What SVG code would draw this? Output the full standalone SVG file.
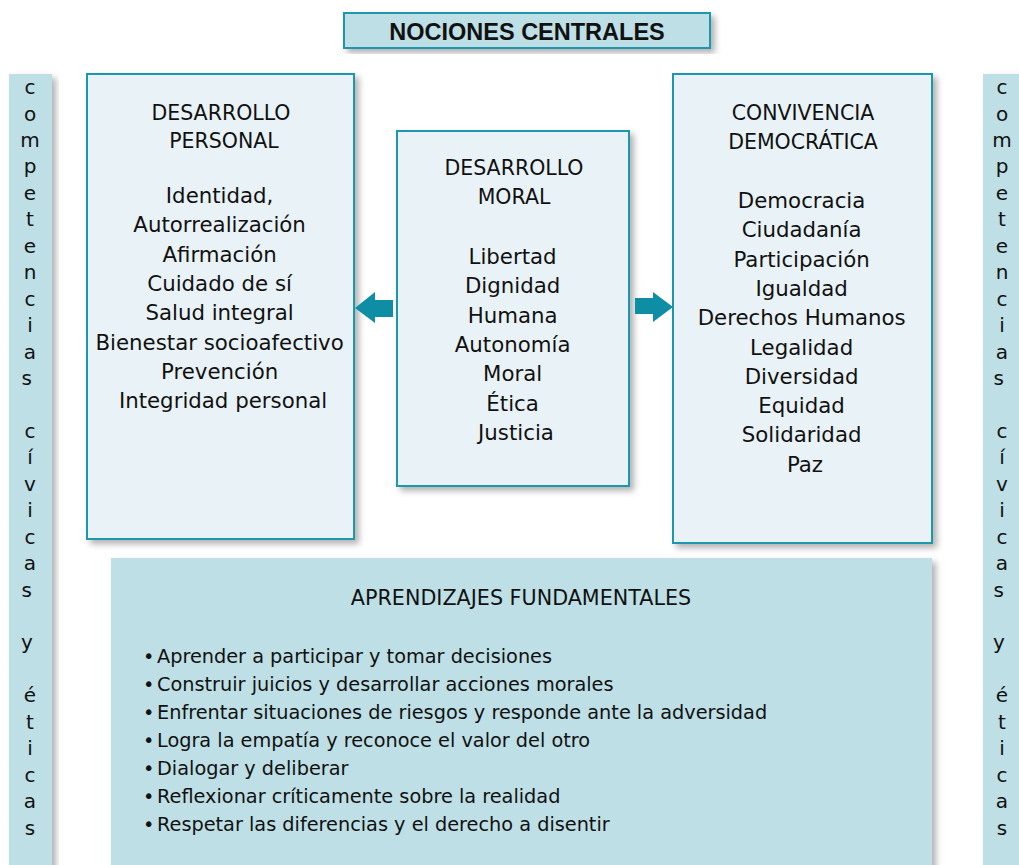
<svg xmlns="http://www.w3.org/2000/svg" width="1019" height="865" viewBox="0 0 1019 865">
<defs>
<filter id="sh" x="-10%" y="-10%" width="125%" height="125%">
<feDropShadow dx="4" dy="4" stdDeviation="3" flood-color="#000" flood-opacity="0.3"/>
</filter>
<style>
text{font-family:"DejaVu Sans","Liberation Sans",sans-serif;fill:#111;}
.box{fill:#e9f3f7;stroke:#1b97ad;stroke-width:2;filter:url(#sh);}
.strip{fill:#bddfe5;filter:url(#sh);}
.h{font-size:20.5px;text-anchor:middle;}
.i{font-size:21.3px;text-anchor:middle;}
.v{font-size:20px;text-anchor:middle;}
.b{font-size:19.3px;}
.arr{fill:#0e8ea5;}
</style>
</defs>
<rect width="1019" height="865" fill="#fff"/>

<g id="title">
<rect x="344" y="13" width="366" height="35" fill="#bddfe5" stroke="#1b97ad" stroke-width="2" filter="url(#sh)"/>
<text x="527" y="40" style="font-family:'Liberation Sans',sans-serif;font-size:23.5px;font-weight:bold;text-anchor:middle;">NOCIONES CENTRALES</text>
</g>

<g id="strip-left">
<rect class="strip" x="9" y="74" width="43" height="800"/>
<text class="v">
<tspan x="30" y="94">c</tspan><tspan x="30" y="120.5">o</tspan><tspan x="30" y="147">m</tspan><tspan x="30" y="173.4">p</tspan><tspan x="30" y="199.8">e</tspan><tspan x="30" y="226.3">t</tspan><tspan x="30" y="252.7">e</tspan><tspan x="30" y="279.2">n</tspan><tspan x="30" y="305.6">c</tspan><tspan x="30" y="332">i</tspan><tspan x="30" y="358.5">a</tspan><tspan x="30" y="385">s</tspan>
<tspan x="30" y="437.8">c</tspan><tspan x="30" y="464.3">í</tspan><tspan x="30" y="490.7">v</tspan><tspan x="30" y="517.2">i</tspan><tspan x="30" y="543.6">c</tspan><tspan x="30" y="570">a</tspan><tspan x="30" y="596.5">s</tspan>
<tspan x="30" y="649.4">y</tspan>
<tspan x="30" y="702.3">é</tspan><tspan x="30" y="728.7">t</tspan><tspan x="30" y="755.2">i</tspan><tspan x="30" y="781.6">c</tspan><tspan x="30" y="808">a</tspan><tspan x="30" y="834.5">s</tspan>
</text>
</g>

<g id="strip-right">
<rect class="strip" x="983" y="74" width="50" height="800"/>
<text class="v">
<tspan x="1002" y="94">c</tspan><tspan x="1002" y="120.5">o</tspan><tspan x="1002" y="147">m</tspan><tspan x="1002" y="173.4">p</tspan><tspan x="1002" y="199.8">e</tspan><tspan x="1002" y="226.3">t</tspan><tspan x="1002" y="252.7">e</tspan><tspan x="1002" y="279.2">n</tspan><tspan x="1002" y="305.6">c</tspan><tspan x="1002" y="332">i</tspan><tspan x="1002" y="358.5">a</tspan><tspan x="1002" y="385">s</tspan>
<tspan x="1002" y="437.8">c</tspan><tspan x="1002" y="464.3">í</tspan><tspan x="1002" y="490.7">v</tspan><tspan x="1002" y="517.2">i</tspan><tspan x="1002" y="543.6">c</tspan><tspan x="1002" y="570">a</tspan><tspan x="1002" y="596.5">s</tspan>
<tspan x="1002" y="649.4">y</tspan>
<tspan x="1002" y="702.3">é</tspan><tspan x="1002" y="728.7">t</tspan><tspan x="1002" y="755.2">i</tspan><tspan x="1002" y="781.6">c</tspan><tspan x="1002" y="808">a</tspan><tspan x="1002" y="834.5">s</tspan>
</text>
</g>

<g id="desarrollo-personal">
<rect class="box" x="87" y="74" width="267" height="465"/>
<text class="h"><tspan x="221" y="120">DESARROLLO</tspan><tspan x="224" y="148">PERSONAL</tspan></text>
<text class="i">
<tspan x="223" y="203">Identidad,</tspan>
<tspan x="223" y="232.3">Autorrealización</tspan>
<tspan x="223" y="261.6">Afirmación</tspan>
<tspan x="223" y="290.9">Cuidado de sí</tspan>
<tspan x="223" y="320.2">Salud integral</tspan>
<tspan x="223" y="349.5">Bienestar socioafectivo</tspan>
<tspan x="223" y="378.8">Prevención</tspan>
<tspan x="223" y="408.1">Integridad personal</tspan>
</text>
</g>

<g id="desarrollo-moral">
<rect class="box" x="397" y="131" width="232" height="355"/>
<text class="h"><tspan x="514" y="175">DESARROLLO</tspan><tspan x="514" y="204">MORAL</tspan></text>
<text class="i">
<tspan x="516" y="264">Libertad</tspan>
<tspan x="516" y="293.3">Dignidad</tspan>
<tspan x="516" y="322.6">Humana</tspan>
<tspan x="516" y="351.9">Autonomía</tspan>
<tspan x="516" y="381.2">Moral</tspan>
<tspan x="516" y="410.5">Ética</tspan>
<tspan x="516" y="439.8">Justicia</tspan>
</text>
</g>

<g id="convivencia-democratica">
<rect class="box" x="673" y="74" width="259" height="469"/>
<text class="h"><tspan x="803" y="120">CONVIVENCIA</tspan><tspan x="803" y="149">DEMOCRÁTICA</tspan></text>
<text class="i">
<tspan x="805" y="208">Democracia</tspan>
<tspan x="805" y="237.3">Ciudadanía</tspan>
<tspan x="805" y="266.6">Participación</tspan>
<tspan x="805" y="295.9">Igualdad</tspan>
<tspan x="805" y="325.2">Derechos Humanos</tspan>
<tspan x="805" y="354.5">Legalidad</tspan>
<tspan x="805" y="383.8">Diversidad</tspan>
<tspan x="805" y="413.1">Equidad</tspan>
<tspan x="805" y="442.4">Solidaridad</tspan>
<tspan x="805" y="471.7">Paz</tspan>
</text>
</g>

<g id="connectors">
<polygon class="arr" points="355,308 375,292 375,300 393,300 393,317 375,317 375,323"/>
<polygon class="arr" points="673,307 653,292 653,298 635,298 635,314 653,314 653,322"/>
</g>

<g id="aprendizajes">
<rect x="111" y="558" width="821" height="320" fill="#bddfe5" filter="url(#sh)"/>
<text x="521" y="605" style="font-size:20.7px;text-anchor:middle;">APRENDIZAJES FUNDAMENTALES</text>
<text class="b">
<tspan x="143" y="663">•</tspan><tspan x="157" y="663">Aprender a participar y tomar decisiones</tspan>
<tspan x="143" y="691">•</tspan><tspan x="157" y="691">Construir juicios y desarrollar acciones morales</tspan>
<tspan x="143" y="719">•</tspan><tspan x="157" y="719">Enfrentar situaciones de riesgos y responde ante la adversidad</tspan>
<tspan x="143" y="747">•</tspan><tspan x="157" y="747">Logra la empatía y reconoce el valor del otro</tspan>
<tspan x="143" y="775">•</tspan><tspan x="157" y="775">Dialogar y deliberar</tspan>
<tspan x="143" y="803">•</tspan><tspan x="157" y="803">Reflexionar críticamente sobre la realidad</tspan>
<tspan x="143" y="831">•</tspan><tspan x="157" y="831">Respetar las diferencias y el derecho a disentir</tspan>
</text>
</g>
</svg>
